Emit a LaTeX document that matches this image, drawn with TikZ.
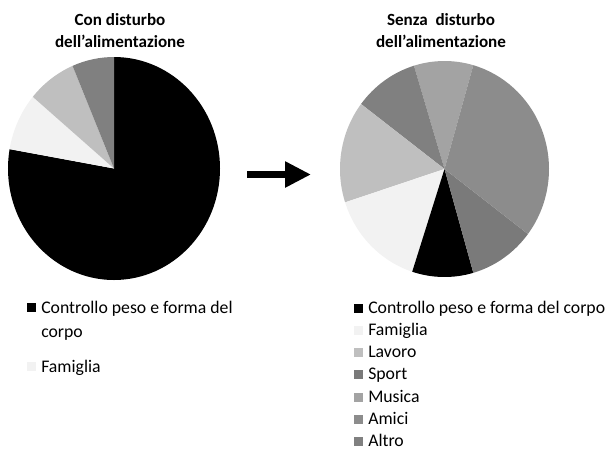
\documentclass[tikz,border=0pt]{standalone}
\usepackage{fontspec}
\setmainfont{Carlito}
\usepackage{xcolor}
\usepackage{tikz}
\usetikzlibrary{positioning,arrows.meta}
\definecolor{famiglia}{HTML}{F2F2F2}
\definecolor{lavoro}{HTML}{BFBFBF}
\definecolor{sport}{HTML}{7A7A7A}
\definecolor{musica}{HTML}{A3A3A3}
\definecolor{amici}{HTML}{8C8C8C}
\definecolor{altro}{HTML}{808080}
\tikzset{
  titolo/.style={font=\bfseries\fontsize{12.8}{16.5}\selectfont, align=center, anchor=base, inner sep=0pt},
  voce/.style={font=\fontsize{13.3}{17.3}\selectfont, anchor=base west, align=left, inner sep=0pt},
  quadro/.style={minimum size=6.75pt, inner sep=0pt}
}
% center, start, end, x radius, y radius, colour
\newcommand{\pieslice}[6]{%
  \fill[#6] (#1) -- ++(#2:#4 and #5) arc[start angle=#2, end angle=#3, x radius=#4, y radius=#5] -- cycle;}

\begin{document}
\begin{tikzpicture}[x=0.75pt, y=0.75pt]
  \useasboundingbox (0,0) rectangle (607,-451);

  % con disturbo
  \coordinate (cleft) at (114,-168.5);
  \node[titolo] (tleft) at (120,-47) {Con disturbo\\dell'alimentazione};
  \pieslice{cleft}{90}{-190}{106}{111.5}{black}
  \pieslice{cleft}{170}{140}{106}{111.5}{famiglia}
  \pieslice{cleft}{140}{113}{106}{111.5}{lavoro}
  \pieslice{cleft}{113}{90}{106}{111.5}{altro}

  \node[quadro, fill=black] (kl1) at (31.5,-307) {};
  \node[voce] (vl1) at (41,-337) {Controllo peso e forma del\\corpo};
  \node[quadro, fill=famiglia] (kl2) at (31.5,-366) {};
  \node[voce] (vl2) at (41,-372) {Famiglia};

  % freccia
  \coordinate (fa) at (247,-174.5);
  \coordinate (fb) at (311,-174.5);
  \draw[line width=5.7pt, -{Triangle[length=19.5pt, width=18.5pt]}] (fa) -- (fb);

  % senza disturbo
  \coordinate (cright) at (444.5,-169);
  \node[titolo] (tright) at (441,-47) {Senza\ \ disturbo\\dell'alimentazione};
  \pieslice{cright}{74}{107}{104.5}{108}{musica}
  \pieslice{cright}{107}{143}{104.5}{108}{altro}
  \pieslice{cright}{143}{198}{104.5}{108}{lavoro}
  \pieslice{cright}{198}{252}{104.5}{108}{famiglia}
  \pieslice{cright}{252}{286}{104.5}{108}{black}
  \pieslice{cright}{286}{323}{104.5}{108}{sport}
  \pieslice{cright}{323}{434}{104.5}{108}{amici}

  \node[quadro, fill=black] (kr1) at (358,-308) {};
  \node[voce] (vr1) at (368,-313) {Controllo peso e forma del corpo};
  \node[quadro, fill=famiglia] (kr2) at (358,-330.3) {};
  \node[voce] (vr2) at (368,-335.3) {Famiglia};
  \node[quadro, fill=lavoro] (kr3) at (358,-352.6) {};
  \node[voce] (vr3) at (368,-357.6) {Lavoro};
  \node[quadro, fill=sport] (kr4) at (358,-374.9) {};
  \node[voce] (vr4) at (368,-379.9) {Sport};
  \node[quadro, fill=musica] (kr5) at (358,-397.2) {};
  \node[voce] (vr5) at (368,-402.2) {Musica};
  \node[quadro, fill=amici] (kr6) at (358,-419.5) {};
  \node[voce] (vr6) at (368,-424.5) {Amici};
  \node[quadro, fill=altro] (kr7) at (358,-441.8) {};
  \node[voce] (vr7) at (368,-446.8) {Altro};
\end{tikzpicture}
\end{document}
